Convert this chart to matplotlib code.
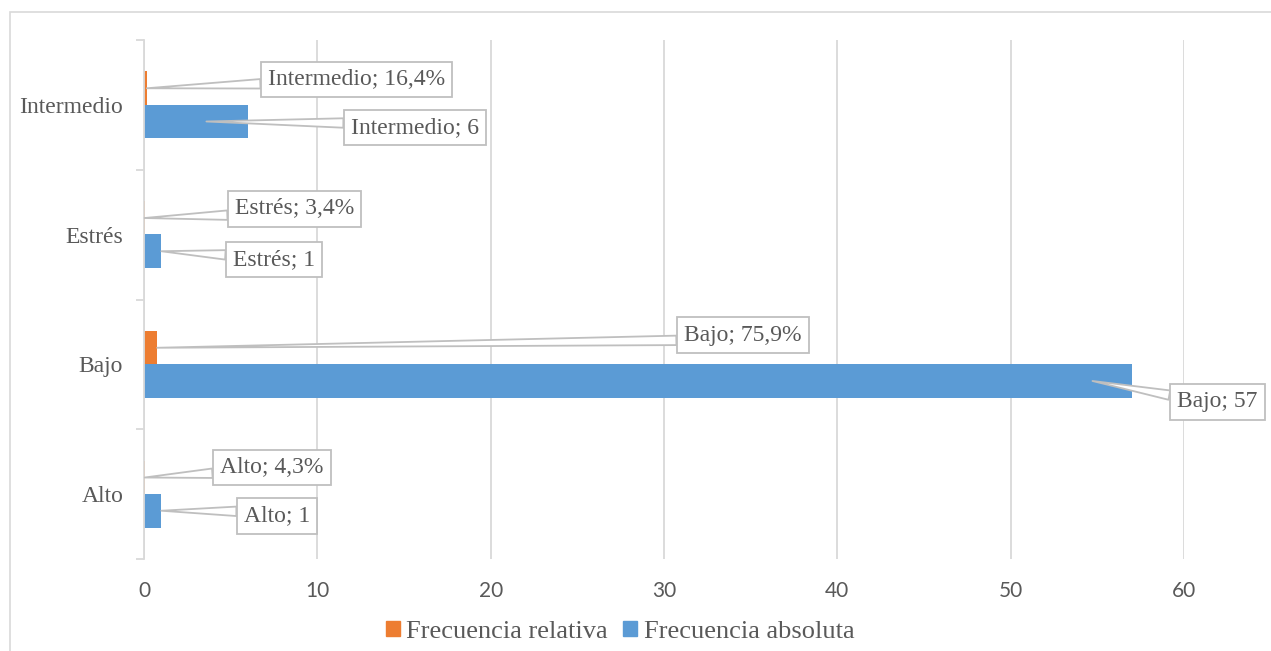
import matplotlib
matplotlib.use('Agg')
import matplotlib.pyplot as plt
from matplotlib.patches import Rectangle, Patch

# ---------------- data ----------------
categories = ['Alto', 'Bajo', 'Estrés', 'Intermedio']
frec_absoluta = [1, 57, 1, 6]
frec_relativa = [0.043, 0.759, 0.034, 0.164]
x_ticks = [0, 10, 20, 30, 40, 50, 60]
series_names = ['Frecuencia relativa', 'Frecuencia absoluta']

# ---------------- layout (pixels of the 1271x651 canvas) ----------------
W, H, DPI = 1271, 651, 100
BLUE = '#5B9BD5'
ORANGE = '#ED7D31'
TXT = '#595959'
GRID = '#d9d9d9'
BOXEDGE = '#bfbfbf'
SERIF = ['Liberation Serif', 'DejaVu Serif']
SANS = ['Lato', 'DejaVu Sans']

# label boxes: (left px, centre y px from top, attach point on box left edge)
rel_boxes = [(213, 467.5, 0.25), (677, 335, 0.25), (228, 209, 0.22), (261, 79.5, 0.31)]
abs_boxes = [(237, 516, 0.72), (1170, 402, 0.76), (226, 259.5, 0.70), (344, 127.5, 0.71)]
abs_anchor_frac = [1.0, 0.96, 1.0, 0.6]

fig = plt.figure(figsize=(W / DPI, H / DPI), dpi=DPI)
# chart outer border
fig.patches.append(Rectangle((10 / W, -0.5), 1.5, 1.5 - 12 / H, transform=fig.transFigure,
                             fill=False, edgecolor=GRID, lw=1.2))

ax = fig.add_axes([144 / W, 1 - 559 / H, (1184 - 144) / W, (559 - 40) / H])

ypos = list(range(len(categories)))
bh = 0.26
off = 0.128
ax.barh([y + off for y in ypos], frec_relativa, height=bh, color=ORANGE, zorder=2)
ax.barh([y - off for y in ypos], frec_absoluta, height=bh, color=BLUE, zorder=2)

ax.set_xlim(0, 60)
ax.set_ylim(-0.5, len(categories) - 0.5)
ax.set_xticks(x_ticks)
ax.set_xticklabels([str(t) for t in x_ticks], family=SANS, fontsize=15, color=TXT)
ax.tick_params(axis='x', length=0, pad=16)
ax.xaxis.grid(True, color=GRID, lw=1.3)
ax.set_axisbelow(True)

ax.set_yticks([y - 0.5 for y in ypos] + [len(categories) - 0.5])
ax.set_yticklabels([])
ax.tick_params(axis='y', which='major', length=6, color=GRID, width=1.3)
ax.set_yticks(ypos, minor=True)
ax.set_yticklabels(categories, minor=True, family=SERIF, fontsize=17, color=TXT)
ax.tick_params(axis='y', which='minor', length=0, pad=15)

for s in ['top', 'right', 'bottom']:
    ax.spines[s].set_visible(False)
ax.spines['left'].set_color(GRID)
ax.spines['left'].set_linewidth(1.3)

FS = 17
PAD = 0.3
pad_px = PAD * FS * DPI / 72


def fmt_pct(v):
    return ('%.1f%%' % (v * 100)).replace('.', ',')


def callout(text, xy, box):
    left, cy, rely = box
    ax.annotate(text, xy=xy, xycoords='data',
                xytext=(left + pad_px, H - cy), textcoords='figure pixels',
                ha='left', va='center', family=SERIF, fontsize=FS, color=TXT,
                bbox=dict(boxstyle='square,pad=%g' % PAD, fc='white', ec=BOXEDGE, lw=1.3),
                arrowprops=dict(arrowstyle='wedge,tail_width=0.4,shrink_factor=0.5',
                                fc='white', ec=BOXEDGE, lw=1.3, relpos=(0, rely),
                                shrinkA=0, shrinkB=0),
                zorder=5, annotation_clip=False)


for i, cat in enumerate(categories):
    callout('%s; %s' % (cat, fmt_pct(frec_relativa[i])),
            (frec_relativa[i], i + off), rel_boxes[i])
    callout('%s; %d' % (cat, frec_absoluta[i]),
            (frec_absoluta[i] * abs_anchor_frac[i], i - off), abs_boxes[i])

handles = [Patch(color=ORANGE), Patch(color=BLUE)]
leg = fig.legend(handles, series_names, loc='center', bbox_to_anchor=(620 / W, 1 - 632 / H),
                 ncol=2, frameon=False, prop={'family': SERIF, 'size': 19},
                 handlelength=0.53, handleheight=0.53, handletextpad=0.25, columnspacing=0.57,
                 borderpad=0)
for t in leg.get_texts():
    t.set_color(TXT)

fig.savefig('out.png', dpi=DPI)
